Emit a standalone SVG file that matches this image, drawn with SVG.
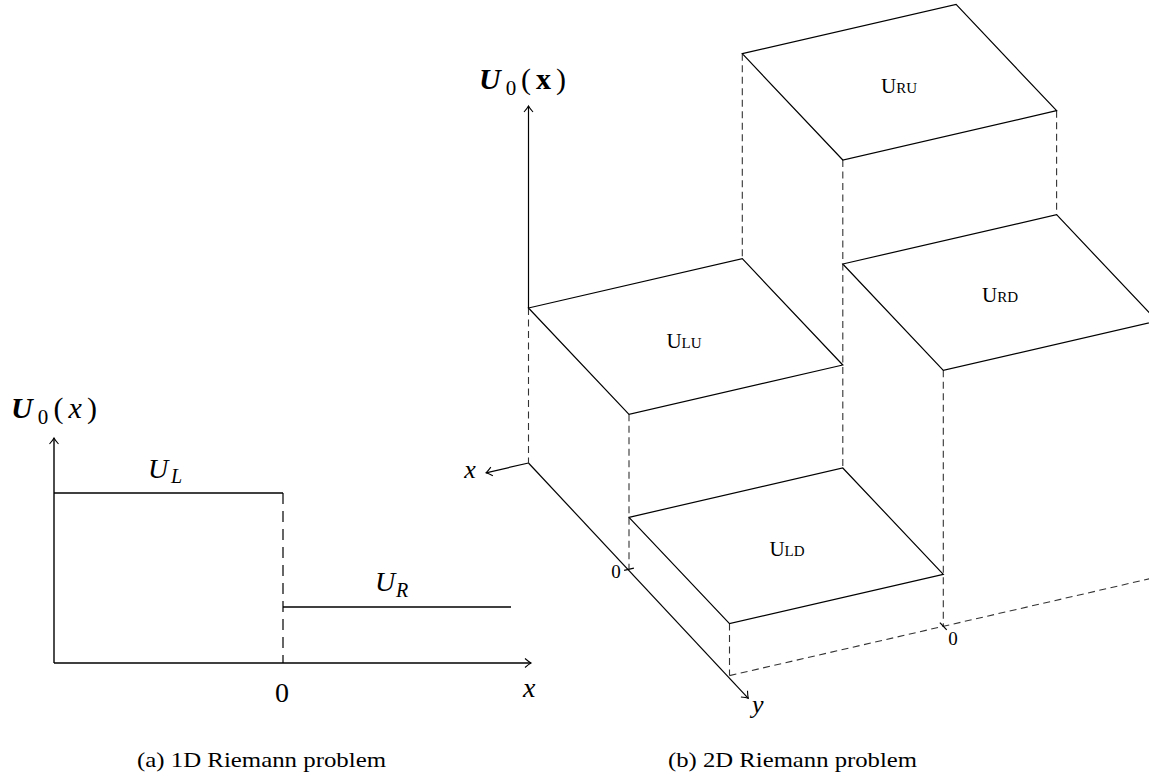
<svg xmlns="http://www.w3.org/2000/svg" width="1149" height="784" viewBox="0 0 1149 784">
<style>
.ln{fill:none;stroke:#000;stroke-width:1.2}
.la{fill:none;stroke:#000;stroke-width:1.4}
.da{fill:none;stroke:#000;stroke-width:1.2;stroke-dasharray:11 7}
.db{fill:none;stroke:#333;stroke-width:1.1;stroke-dasharray:7 4.5}
.m{font-family:"Liberation Serif",serif;fill:#000}
.it{font-style:italic}
.bd{font-weight:bold}
.cap{font-family:"Liberation Serif",serif;fill:#000;font-size:21px}
</style>
<defs>
<marker id="arr" viewBox="-8 -6 10 12" markerWidth="10" markerHeight="12" refX="0" refY="0" orient="auto" markerUnits="userSpaceOnUse">
<path d="M-6,-4.5 Q-2,-1 0,0 Q-2,1 -6,4.5" fill="none" stroke="#000" stroke-width="1.1"/>
</marker>
</defs>

<g id="panel-a">
<g id="a-connectors">
<line class="la" x1="54" y1="663" x2="54" y2="438" marker-end="url(#arr)"/>
<line class="la" x1="54" y1="663" x2="531" y2="663" marker-end="url(#arr)"/>
<line class="la" x1="54" y1="493" x2="283" y2="493"/>
<line class="da" x1="283" y1="493" x2="283" y2="663"/>
<line class="la" x1="283" y1="607" x2="511" y2="607"/>
</g>
<g id="a-labels">
<text class="m" font-size="30" x="11" y="418" textLength="86" lengthAdjust="spacing"><tspan class="bd it">U</tspan><tspan font-size="21" dy="6">0</tspan><tspan dy="-6">(</tspan><tspan class="it">x</tspan>)</text>
<text class="m" font-size="28" y="478"><tspan class="it" x="148">U</tspan><tspan class="it" font-size="20" x="171" y="483">L</tspan></text>
<text class="m" font-size="28" y="591"><tspan class="it" x="375">U</tspan><tspan class="it" font-size="20" x="396" y="597">R</tspan></text>
<text class="m" font-size="28" x="282" y="702" text-anchor="middle">0</text>
<text class="m it" font-size="28" x="523" y="697">x</text>
</g>
<text class="cap" x="137" y="767" textLength="249" lengthAdjust="spacingAndGlyphs">(a) 1D Riemann problem</text>
</g>

<g id="panel-b">
<g id="b-connectors">
<line class="ln" x1="528.5" y1="308" x2="528.5" y2="106" marker-end="url(#arr)"/>
<line class="ln" x1="528.5" y1="463" x2="486" y2="472.8" marker-end="url(#arr)"/>
<line class="ln" x1="528.5" y1="463" x2="748.3" y2="698.3" marker-end="url(#arr)"/>
<line class="db" x1="528.5" y1="308" x2="528.5" y2="463"/>
<line class="db" x1="742.3" y1="53.7" x2="742.3" y2="258.7"/>
<line class="db" x1="842.8" y1="160" x2="842.8" y2="468"/>
<line class="db" x1="1056.6" y1="110.7" x2="1056.6" y2="214.7"/>
<line class="db" x1="629" y1="414.3" x2="629" y2="569.3"/>
<line class="db" x1="729.5" y1="623.6" x2="729.5" y2="675.6"/>
<line class="db" x1="943.3" y1="370.3" x2="943.3" y2="626.3"/>
<line class="db" x1="729.5" y1="675.6" x2="1157.1" y2="577"/>
<line class="ln" x1="624.1" y1="570.4" x2="633.9" y2="568.2"/>
<line class="ln" x1="939.9" y1="622.7" x2="946.7" y2="629.9"/>
</g>
<g id="LU">
<polygon class="ln" points="528.5,308 742.3,258.7 842.8,365 629,414.3"/>
<text class="m" text-anchor="middle" x="684" y="348" font-size="21">U<tspan font-size="15">LU</tspan></text>
</g>
<g id="RU">
<polygon class="ln" points="742.3,53.7 956.1,4.4 1056.6,110.7 842.8,160"/>
<text class="m" text-anchor="middle" x="899" y="93" font-size="21">U<tspan font-size="15">RU</tspan></text>
</g>
<g id="RD">
<polygon class="ln" points="842.8,264 1056.6,214.7 1157.1,321 943.3,370.3"/>
<text class="m" text-anchor="middle" x="1000" y="302" font-size="21">U<tspan font-size="15">RD</tspan></text>
</g>
<g id="LD">
<polygon class="ln" points="629,517.3 842.8,468 943.3,574.3 729.5,623.6"/>
<text class="m" text-anchor="middle" x="787" y="556" font-size="21">U<tspan font-size="15">LD</tspan></text>
</g>
<g id="b-labels">
<text class="m" font-size="30" x="479" y="89" textLength="87" lengthAdjust="spacing"><tspan class="bd it">U</tspan><tspan font-size="21" dy="6">0</tspan><tspan dy="-6">(</tspan><tspan class="bd">x</tspan>)</text>
<text class="m it" font-size="26" x="470" y="478" text-anchor="middle">x</text>
<text class="m it" font-size="26" x="752" y="713">y</text>
<text class="m" font-size="19" x="616" y="578" text-anchor="middle">0</text>
<text class="m" font-size="19" x="953" y="645" text-anchor="middle">0</text>
</g>
<text class="cap" x="668" y="767" textLength="249" lengthAdjust="spacingAndGlyphs">(b) 2D Riemann problem</text>
</g>
</svg>
